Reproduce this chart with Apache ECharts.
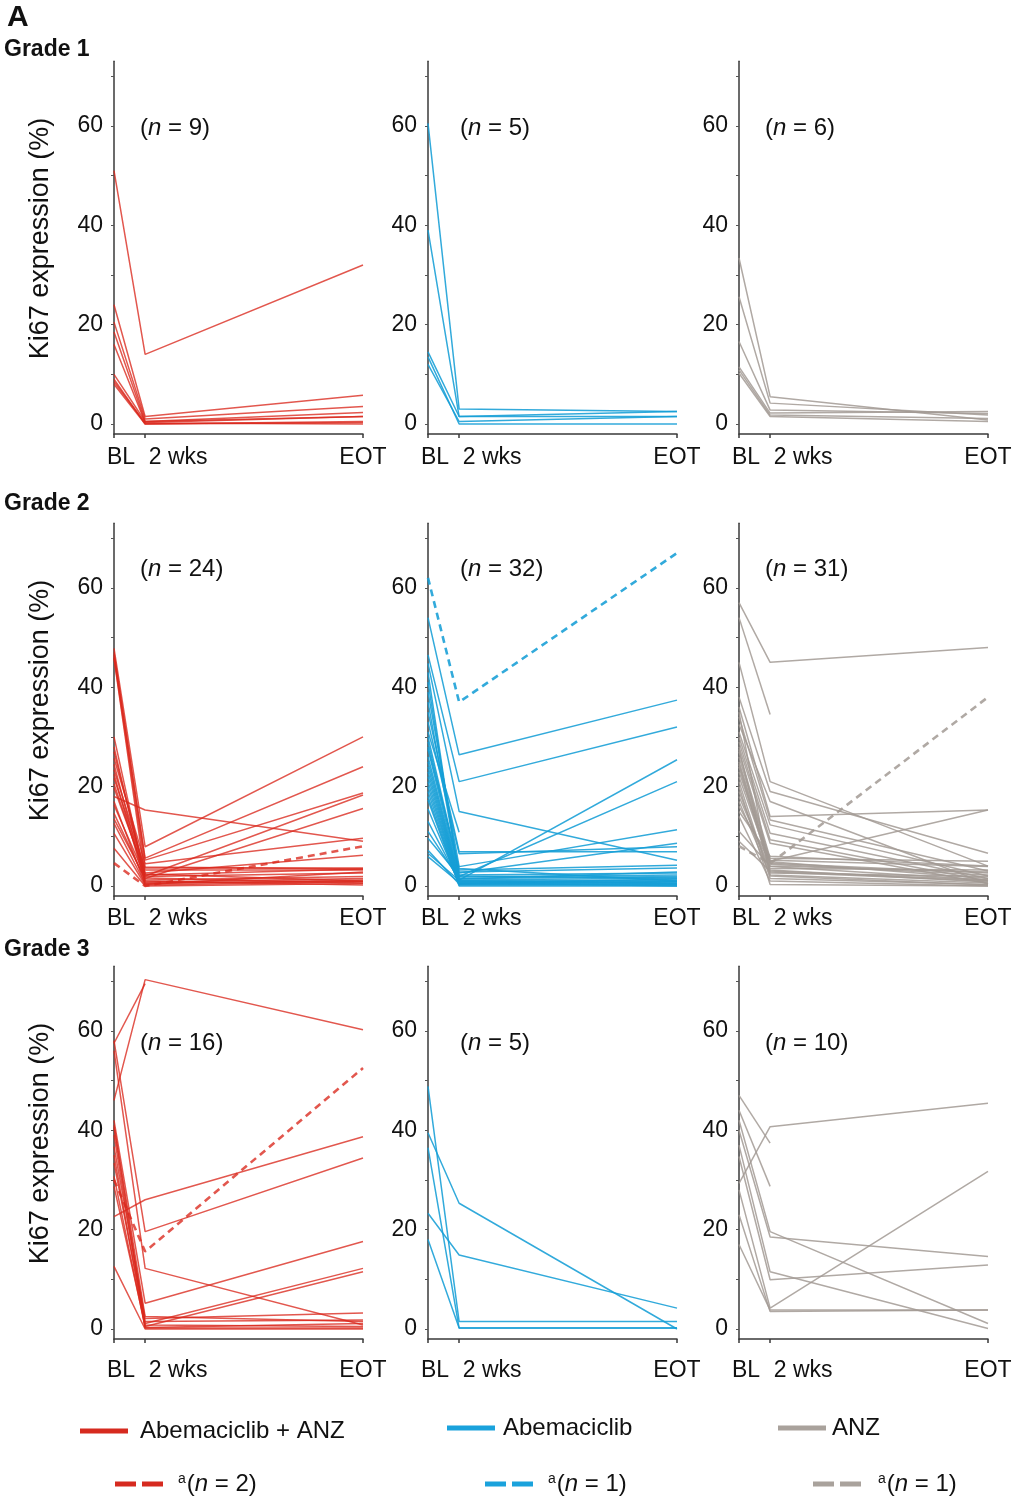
<!DOCTYPE html>
<html><head><meta charset="utf-8">
<script src="https://cdn.jsdelivr.net/npm/echarts@6/dist/echarts.min.js"></script>
<style>html,body{margin:0;padding:0;background:#fff}#c{width:1016px;height:1500px}</style>
</head><body><div id="c"></div>
<script>
// ---------- data ----------
const timeLabels = ['BL', '2 wks', 'EOT'];
const timeWeeks = [0, 2, 16];
const yTickLabels = [0, 20, 40, 60];
const yMinorTicks = [0, 10, 20, 30, 40, 50, 60, 70];
const gradeNames = ['Grade 1', 'Grade 2', 'Grade 3'];
const armNames = ['Abemaciclib + ANZ', 'Abemaciclib', 'ANZ'];
const dashedNames = ['aRed', 'aBlue', 'aGray'];
const dashedLegendN = [2, 1, 1];

// each patient: [BL, 2 wks, EOT]
const g1AbeAnz = [[51,14,32],[24,1.5,5.8],[20.5,1,3.5],[18.5,0.5,2.3],[16,0.3,1.5],[10,0.5,1.5],[9,0,0.3],[8.5,0.2,0],[8,0,0.5]];
const g1AbeAnzDashed = [];
const g1Abe = [[60.5,3,2.5],[39,1.5,1.5],[14.5,1.5,2.5],[13.5,0,0],[12,0.5,1.5]];
const g1AbeDashed = [];
const g1Anz = [[33.4,5.5,0.8],[25.6,4.2,1.8],[16.6,2.8,2.1],[10.9,1.8,1.1],[10.2,1.5,0.5],[11.5,2.2,2.5]];
const g1AnzDashed = [];

const g2AbeAnz = [[47.8,7.9,30],[47,5.6,24],[46.5,5.2,18.7],[45.8,2,18.3],[30,1.5,15.6],[18,15.3,9],[25.7,4.5,9.6],[23.4,3.6,3.6],[21.7,3.2,3.2],[19.7,2.6,6.2],[16.3,1.9,2.6],[14.6,1.2,1.9],[12.6,0.5,1.2],[10.6,0.2,0.9],[7.6,0,0.5],[20.5,2.2,3.4],[28,1,0.2],[24.5,0.8,1.5],[17,0.3,2.8],[13.5,1.6,0.6],[46,3.8,3.4],[22.5,0.6,0.9],[27,2.4,1]];
const g2AbeAnzDashed = [[4.6,0,8]];
const g2Abe = [[54,26.4,37.4],[46.5,21,32],[44.8,15,5.2],[43,1.2,25.4],[41,1.9,21],[39,3.9,11.3],[37,2.6,8.6],[35,6.9,6.9],[33,6.5,7.9],[31,10.8,null],[30,3.2,4.2],[29,2.8,3.6],[27.5,2.2,2.6],[26,1.8,2.2],[25,1.5,1.9],[24,1.2,1.6],[23,1,1.2],[22,0.8,1],[21,0.6,0.8],[20,0.5,0.5],[19,0.3,0.3],[18,0.2,0.2],[17.3,0,0],[15.5,0.5,1.4],[13,0.9,0.6],[11,1.4,2.8],[9.6,2,1.6],[7.2,0.4,0.9],[6.6,1.1,0.4],[5.9,0.7,0],[28,3.5,1]];
const g2AbeDashed = [[62,37,67]];
const g2Anz = [[57,45,48],[54,34.5,null],[45,21,4],[38,19,6.6],[36,14,15.3],[34,13.3,3],[31,12.3,2],[30,10.6,1.5],[29,9.3,1],[28,8.6,0.5],[27,5.6,5],[26,5.2,3.9],[25,4.6,2.6],[24.5,3.9,1.2],[24,3.2,0.8],[23,5,15.3],[22,4.4,2.2],[21,1.5,0.3],[20,0.3,0],[19,2.6,1.9],[18,3.5,3.2],[17,2.2,0.6],[16,4.9,1.5],[15,6,4],[14,1,0],[11,4,2.8],[9,3,1.2],[32.5,17,0.4],[35,2,0.2],[27.5,2.8,1]];
const g2AnzDashed = [[8,4.5,38]];

const g3AbeAnz = [[46,70.3,60.2],[57.5,69.5,null],[22.6,26,38.7],[58,19.6,34.4],[56,12.2,0.8],[42,5.2,17.6],[40.5,1.1,12.2],[39,0.5,11.5],[36.7,2.1,3.2],[33.4,1.5,1.8],[30.7,0.3,1.1],[28.7,0.8,0.5],[12.6,0,0],[41,2.5,1.5],[35,0.2,0.2]];
const g3AbeAnzDashed = [[30,15.6,52.5]];
const g3Abe = [[48.8,1.5,1.5],[39.5,25.3,0],[36.5,0.2,0.2],[23.3,14.9,4.2],[18,0.2,0.2]];
const g3AbeDashed = [];
const g3Anz = [[47,37.4,null],[44,28.7,null],[29.3,40.7,45.4],[42,19.6,1.1],[40,18.5,14.6],[37,11.5,0.1],[34.7,9.9,12.9],[28,4.2,31.7],[23,3.5,3.8],[17,3.8,3.8]];
const g3AnzDashed = [];

// ---------- layout / style ----------
const FONT = 'Liberation Sans, Arial, Helvetica, sans-serif';
const TXT = '#111';
const colors = ['rgba(218,40,28,0.78)', 'rgba(22,158,214,0.88)', 'rgba(162,154,148,0.85)'];
const legendColors = ['#d62a1f', '#1aa2dc', '#a9a29c'];
const colLeft = [114, 428, 739];
const gridW = 249;
const rowY0 = [424, 886, 1329];
const ppu = 4.97, yMin = -2, yMax = 73;
const xLabelMargin = [12, 11, 20];
const nLeft = [140, 460, 765];
const nTop = [116, 557, 1031];
const gradeTop = [38, 492, 938];

const panels = [
  [[g1AbeAnz, g1AbeAnzDashed], [g1Abe, g1AbeDashed], [g1Anz, g1AnzDashed]],
  [[g2AbeAnz, g2AbeAnzDashed], [g2Abe, g2AbeDashed], [g2Anz, g2AnzDashed]],
  [[g3AbeAnz, g3AbeAnzDashed], [g3Abe, g3AbeDashed], [g3Anz, g3AnzDashed]]
];

const grid = [], xAxis = [], yAxis = [], series = [], title = [];
const toPts = p => p.map((v, i) => v == null ? null : [timeWeeks[i], v]).filter(Boolean);

title.push({ text: 'A', left: 7, top: 3, padding: 0, textStyle: { fontFamily: FONT, fontSize: 30, fontWeight: 'bold', color: TXT } });

panels.forEach((row, gi) => {
  const top = rowY0[gi] - yMax * ppu;
  const height = (yMax - yMin) * ppu;
  title.push({ text: gradeNames[gi], left: 4, top: gradeTop[gi], padding: 0,
    textStyle: { fontFamily: FONT, fontSize: 23, fontWeight: 'bold', color: TXT } });
  row.forEach((pair, ci) => {
    const idx = gi * 3 + ci;
    const [solid, dashed] = pair;
    grid.push({ left: colLeft[ci], top: top, width: gridW, height: height, containLabel: false });
    xAxis.push({
      type: 'value', gridIndex: idx, min: 0, max: 16,
      axisLine: { show: true, onZero: false, lineStyle: { color: '#3a3a3a', width: 1.5 } },
      axisTick: { show: true, customValues: timeWeeks, length: 4, lineStyle: { color: '#3a3a3a', width: 1.5 } },
      splitLine: { show: false },
      axisLabel: {
        customValues: timeWeeks, margin: xLabelMargin[gi], color: TXT, fontFamily: FONT, fontSize: 23,
        formatter: v => { const i = timeWeeks.indexOf(v); return '{t' + i + '|' + timeLabels[i] + '}'; },
        rich: {
          t0: { fontFamily: FONT, fontSize: 23, color: TXT, padding: [0, 0, 0, 14] },
          t1: { fontFamily: FONT, fontSize: 23, color: TXT, padding: [0, 0, 0, 66] },
          t2: { fontFamily: FONT, fontSize: 23, color: TXT }
        }
      }
    });
    const ya = {
      type: 'value', gridIndex: idx, min: yMin, max: yMax,
      axisLine: { show: true, lineStyle: { color: '#3a3a3a', width: 1.5 } },
      axisTick: { show: true, customValues: yMinorTicks, length: 3, lineStyle: { color: '#555', width: 1 } },
      splitLine: { show: false },
      axisLabel: { customValues: yTickLabels, margin: 11, color: TXT, fontFamily: FONT, fontSize: 23 }
    };
    if (ci === 0) {
      Object.assign(ya, { name: 'Ki67 expression (%)', nameLocation: 'middle', nameRotate: 90, nameGap: 60,
        nameTextStyle: { fontFamily: FONT, fontSize: 27, color: TXT, padding: [0, 0, 0, 18] } });
    }
    yAxis.push(ya);
    const n = solid.length + dashed.length;
    title.push({ text: '({i|n} = ' + n + ')', left: nLeft[ci], top: nTop[gi], padding: 0,
      textStyle: { fontFamily: FONT, fontSize: 24, fontWeight: 'normal', color: TXT,
        rich: { i: { fontFamily: FONT, fontSize: 24, fontStyle: 'italic', color: TXT } } } });
    solid.forEach(p => series.push({
      type: 'line', name: armNames[ci], xAxisIndex: idx, yAxisIndex: idx, data: toPts(p),
      symbol: 'none', silent: true, animation: false, emphasis: { disabled: true },
      lineStyle: { color: colors[ci], width: 1.5 }, itemStyle: { color: colors[ci] }
    }));
    dashed.forEach(p => series.push({
      type: 'line', name: dashedNames[ci], xAxisIndex: idx, yAxisIndex: idx, data: toPts(p), z: 3,
      symbol: 'none', silent: true, animation: false, emphasis: { disabled: true },
      lineStyle: { color: colors[ci], width: 2.6, type: [7, 5] }, itemStyle: { color: colors[ci] }
    }));
  });
});

// ensure every legend name has a series
dashedNames.forEach(nm => {
  if (!series.some(s => s.name === nm)) series.push({ type: 'line', name: nm, data: [], xAxisIndex: 0, yAxisIndex: 0 });
});

const LF = 24;
const richLeg = {
  t: { fontFamily: FONT, fontSize: LF, color: TXT },
  it: { fontFamily: FONT, fontSize: LF, color: TXT, fontStyle: 'italic' },
  sup: { fontFamily: FONT, fontSize: 14, color: TXT, verticalAlign: 'top', padding: [0, 1, 9, 0] }
};
const legendPos = [
  [80, 1419, 447, 1416, 778, 1416],
  [115, 1472, 485, 1472, 813, 1472]
];
const textPad = [7, 3, 1];
const textPad2 = [10, 10, 12];
const dashIcon = 'path://M0,0L21,0L21,5L0,5Z M27,0L48,0L48,5L27,5Z';
const legend = [];
armNames.forEach((nm, ci) => {
  legend.push({
    left: legendPos[0][ci * 2], top: legendPos[0][ci * 2 + 1], selectedMode: false, padding: 0,
    itemWidth: 48, itemHeight: 5,
    data: [{ name: nm, icon: 'rect', itemStyle: { color: legendColors[ci] } }],
    formatter: name => '{p|}{t|' + name + '}',
    textStyle: { fontFamily: FONT, fontSize: LF, color: TXT, rich: Object.assign({ p: { width: textPad[ci] } }, richLeg) }
  });
  legend.push({
    left: legendPos[1][ci * 2], top: legendPos[1][ci * 2 + 1], selectedMode: false, padding: 0,
    itemWidth: 48, itemHeight: 5, symbolKeepAspect: false,
    data: [{ name: dashedNames[ci], icon: dashIcon, itemStyle: { color: legendColors[ci] } }],
    formatter: () => '{p|}{sup|a}{t|(}{it|n}{t| = ' + dashedLegendN[ci] + ')}',
    textStyle: { fontFamily: FONT, fontSize: LF, color: TXT, rich: Object.assign({ p: { width: textPad2[ci] } }, richLeg) }
  });
});

const chart = echarts.init(document.getElementById('c'), null, { renderer: 'canvas' });
chart.setOption({
  backgroundColor: '#ffffff',
  animation: false,
  title, grid, xAxis, yAxis, series, legend
});
</script></body></html>
